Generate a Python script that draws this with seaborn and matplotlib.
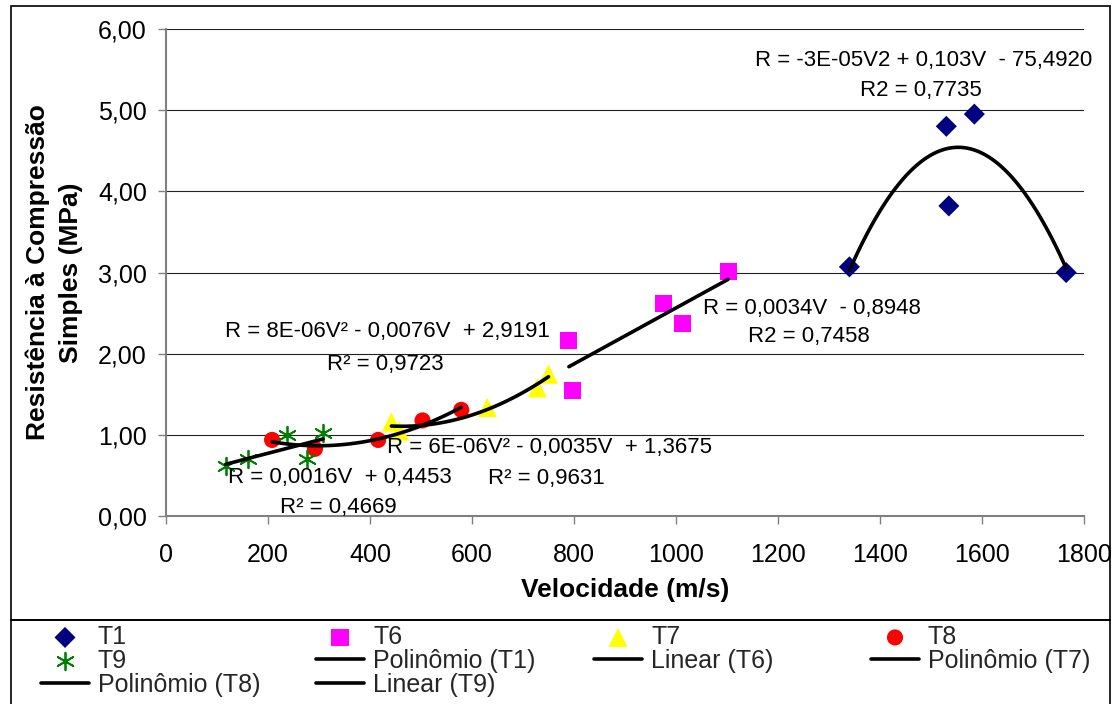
import matplotlib
matplotlib.use("Agg")
import matplotlib.pyplot as plt
import seaborn as sns
from matplotlib.patches import Rectangle

# dados (velocidade em m/s, resistencia em MPa)
v_t1 = [1340, 1530, 1535, 1585, 1765]
r_t1 = [3.07, 4.80, 3.82, 4.95, 3.00]
v_t6 = [790, 797, 975, 1013, 1102]
r_t6 = [2.16, 1.55, 2.62, 2.37, 3.01]
v_t7 = [442, 458, 630, 728, 750]
r_t7 = [1.16, 1.05, 1.34, 1.58, 1.75]
v_t8 = [208, 292, 416, 503, 579]
r_t8 = [0.94, 0.83, 0.94, 1.18, 1.31]
v_t9 = [117, 160, 237, 277, 308]
r_t9 = [0.62, 0.70, 1.00, 0.70, 1.02]

x_ticks = [0, 200, 400, 600, 800, 1000, 1200, 1400, 1600, 1800]
y_ticks = [0, 1, 2, 3, 4, 5, 6]
y_rotulos = ["0,00", "1,00", "2,00", "3,00", "4,00", "5,00", "6,00"]

equacoes = [
    "R = -3E-05V2 + 0,103V  - 75,4920", "R2 = 0,7735",
    "R = 0,0034V  - 0,8948", "R2 = 0,7458",
    "R = 8E-06V² - 0,0076V  + 2,9191", "R² = 0,9723",
    "R = 6E-06V² - 0,0035V  + 1,3675", "R² = 0,9631",
    "R = 0,0016V  + 0,4453", "R² = 0,4669",
]
pos_equacoes = [
    (1155, 5.61), (1361, 5.24),
    (1053, 2.56), (1141, 2.21),
    (116, 2.28), (316, 1.87),
    (433, 0.85), (631, 0.47),
    (122, 0.48), (224, 0.11),
]

series = [
    ("T1", v_t1, r_t1, "D", "#000080", 115, 2, "Polinômio (T1)"),
    ("T6", v_t6, r_t6, "s", "#FF00FF", 150, 1, "Linear (T6)"),
    ("T7", v_t7, r_t7, "^", "#FFFF00", 190, 2, "Polinômio (T7)"),
    ("T8", v_t8, r_t8, "o", "#FF0000", 135, 2, "Polinômio (T8)"),
    ("T9", v_t9, r_t9, (6, 2, 0), "#008000", 160, 1, "Linear (T9)"),
]

sns.set_style("white")
plt.rcParams["font.family"] = ["Liberation Sans", "DejaVu Sans"]

W, H = 1116, 704
fig = plt.figure(figsize=(W / 100, H / 100), dpi=100)
ax = fig.add_axes([166 / W, 1 - 516.3 / H, (1084 - 166) / W, (516.3 - 28.8) / H])

for nome, v, r, marcador, cor, tam, ordem, nome_tend in series:
    if isinstance(marcador, tuple):
        sns.scatterplot(x=v, y=r, marker=marcador, color=cor, s=tam, linewidth=1.3,
                        label=nome, ax=ax)
    else:
        sns.scatterplot(x=v, y=r, marker=marcador, color=cor, s=tam, edgecolor="none",
                        label=nome, ax=ax)
    sns.regplot(x=v, y=r, order=ordem, ci=None, scatter=False, truncate=True,
                color="black", label=nome_tend, line_kws={"lw": 2.6}, ax=ax)

for texto, (xt, yt) in zip(equacoes, pos_equacoes):
    ax.text(xt, yt, texto, fontsize=16, ha="left", va="center", color="black")

ax.set_xlim(0, 1800)
ax.set_ylim(0, 6)
ax.set_xticks(x_ticks)
ax.set_xticklabels([str(t) for t in x_ticks])
ax.set_yticks(y_ticks)
ax.set_yticklabels(y_rotulos)
ax.tick_params(axis="both", direction="out", length=5.8, width=1, color="#808080",
               labelsize=18, labelcolor="black", bottom=True, left=True)
ax.tick_params(axis="x", pad=13.5)
ax.tick_params(axis="y", pad=8)
ax.yaxis.grid(True, color="#222222", lw=0.8)
ax.xaxis.grid(False)
for lado in ["top", "right"]:
    ax.spines[lado].set_visible(False)
for lado in ["left", "bottom"]:
    ax.spines[lado].set_color("#808080")
    ax.spines[lado].set_linewidth(1.5)

ax.set_xlabel("Velocidade (m/s)", fontsize=19, fontweight="bold", color="black", labelpad=8)
ax.set_ylabel("Resistência à Compressão\nSimples (MPa)", fontsize=19, fontweight="bold",
              color="black", labelpad=11, linespacing=1.45)

if ax.get_legend() is not None:
    ax.get_legend().remove()

handles, labels = ax.get_legend_handles_labels()
por_rotulo = dict(zip(labels, handles))
colunas = [
    ["T1", "T9", "Polinômio (T8)"],
    ["T6", "Polinômio (T1)", "Linear (T9)"],
    ["T7", "Linear (T6)"],
    ["T8", "Polinômio (T7)"],
]
x_colunas = [41, 316, 594, 871]
for xc, nomes in zip(x_colunas, colunas):
    fig.legend([por_rotulo[n] for n in nomes], nomes, loc="upper left",
               bbox_to_anchor=(xc / W, 1 - 625 / H), frameon=False, borderpad=0,
               borderaxespad=0, handlelength=1.92, handletextpad=0.36,
               labelspacing=0.0, fontsize=18, scatterpoints=1)

# moldura do grafico e da legenda
fig.add_artist(Rectangle((11 / W, 1 - 620 / H), 1099 / W, 614 / H,
                         transform=fig.transFigure, fill=False, ec="black", lw=1.2))
fig.add_artist(Rectangle((11 / W, -0.05), 1099 / W, 0.05 + 1 - 620 / H,
                         transform=fig.transFigure, fill=False, ec="black", lw=1.2))

fig.savefig("out.png", dpi=100)
